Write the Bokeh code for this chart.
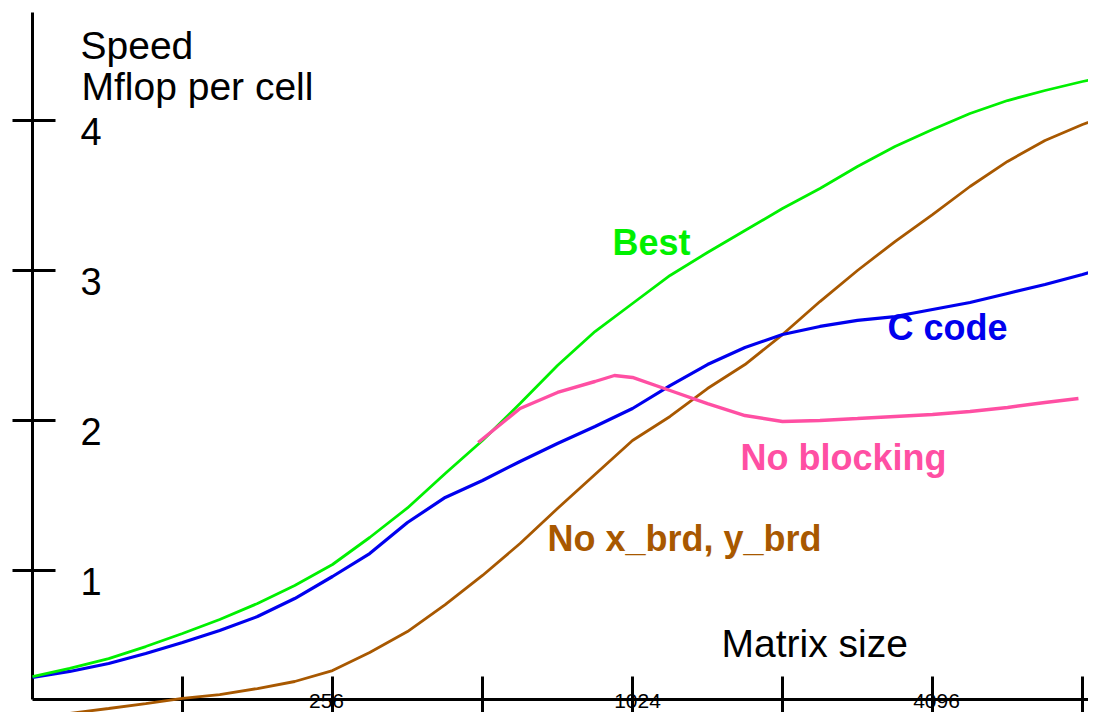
from bokeh.plotting import figure
from bokeh.models import Range1d
from bokeh.core.properties import value
from bokeh.embed import file_html
from bokeh.resources import INLINE

# ---- data ----
sizes = [64, 76, 91, 108, 128, 152, 181, 215, 256, 304, 362, 431, 512, 609, 724,
         861, 1024, 1218, 1448, 1722, 2048, 2435, 2896, 3444, 4096, 4871, 5793,
         6889, 8192, 8738]
best = [0.293, 0.347, 0.413, 0.493, 0.580, 0.673, 0.780, 0.900, 1.040, 1.220,
        1.417, 1.647, 1.867, 2.113, 2.367, 2.593, 2.780, 2.967, 3.120, 3.267,
        3.413, 3.547, 3.693, 3.827, 3.940, 4.047, 4.133, 4.200, 4.260, 4.280]
c_code = [0.287, 0.327, 0.380, 0.447, 0.520, 0.600, 0.693, 0.813, 0.960, 1.113,
          1.320, 1.487, 1.600, 1.727, 1.847, 1.960, 2.080, 2.233, 2.373, 2.487,
          2.573, 2.627, 2.667, 2.693, 2.740, 2.787, 2.847, 2.907, 2.973, 3.000]
no_brd = [0.013, 0.047, 0.080, 0.113, 0.147, 0.173, 0.213, 0.260, 0.333, 0.453,
          0.593, 0.773, 0.967, 1.180, 1.413, 1.640, 1.867, 2.027, 2.213, 2.373,
          2.573, 2.793, 3.000, 3.193, 3.373, 3.560, 3.727, 3.867, 3.973, 4.007]
blocking_sizes = [502, 609, 724, 861, 942, 1024, 1218, 1448, 1722, 2048, 2435,
                  2896, 3444, 4096, 4871, 5793, 6889, 8040]
no_blocking = [1.853, 2.080, 2.187, 2.260, 2.300, 2.287, 2.200, 2.113, 2.033,
               1.993, 2.000, 2.013, 2.027, 2.040, 2.060, 2.087, 2.120, 2.147]

x_ticks = [128, 256, 512, 1024, 2048, 4096, 8192]
x_labeled = [256, 1024, 4096]
x_labels = ["256", "1024", "4096"]
y_ticks = [1, 2, 3, 4]
y_labels = ["1", "2", "3", "4"]

# ---- geometry helpers: picture pixel -> data ----
def xd(px):
    return 64 * 2 ** ((px - 32) / 150.0)

def yd(py):
    return (720 - py) / 150.0

W, H = 1088, 712
p = figure(width=W, height=H, x_axis_type="log",
           x_range=Range1d(xd(0), xd(W)), y_range=Range1d(yd(H), yd(0)),
           output_backend="svg", toolbar_location=None, min_border=0)
p.axis.visible = False
p.grid.visible = False
p.outline_line_color = None
p.background_fill_color = "white"
p.border_fill_color = "white"

FONT = value("Liberation Sans")
AX = "black"
x_axis_y = yd(699)
SHIFT = 12  # baseline correction (px)

# axes
p.segment(x0=[64], y0=[x_axis_y], x1=[xd(1100)], y1=[x_axis_y], line_color=AX, line_width=3)
p.segment(x0=[64], y0=[x_axis_y], x1=[64], y1=[yd(12)], line_color=AX, line_width=3)
p.segment(x0=x_ticks, y0=[yd(676)] * len(x_ticks), x1=x_ticks, y1=[yd(724)] * len(x_ticks),
          line_color=AX, line_width=3)
p.segment(x0=[xd(12)] * len(y_ticks), y0=y_ticks, x1=[xd(55)] * len(y_ticks), y1=y_ticks,
          line_color=AX, line_width=3)

# tick labels
p.text(x=x_labeled, y=[yd(707)] * len(x_labeled), text=x_labels, text_font=FONT,
       text_font_size="21px", text_align="center", text_baseline="bottom",
       text_color="black", x_offset=[-6, 5, 4])
p.text(x=[xd(80)] * len(y_ticks), y=y_ticks, text=y_labels, text_font=FONT,
       text_font_size="38px", text_align="left", text_baseline="alphabetic",
       text_color="black", y_offset=23 - SHIFT)

# curves
GREEN, BLUE, PINK, BROWN = "#00f000", "#0000ee", "#ff4fa3", "#a85800"
p.line(sizes, no_brd, line_color=BROWN, line_width=2.8)
p.line(sizes, c_code, line_color=BLUE, line_width=3.2)
p.line(sizes, best, line_color=GREEN, line_width=2.8)
p.line(blocking_sizes, no_blocking, line_color=PINK, line_width=3.4)

# titles
p.text(x=[xd(80)], y=[yd(57 - SHIFT)], text=["Speed"], text_font=FONT, text_font_size="39px",
       text_baseline="alphabetic", text_color="black")
p.text(x=[xd(81)], y=[yd(98 - SHIFT)], text=["Mflop per cell"], text_font=FONT,
       text_font_size="39px", text_baseline="alphabetic", text_color="black")
p.text(x=[xd(721)], y=[yd(655 - SHIFT)], text=["Matrix size"], text_font=FONT,
       text_font_size="39px", text_baseline="alphabetic", text_color="black")

# series labels
labels = [("Best", 612, 254, GREEN), ("C code", 887, 339, BLUE),
          ("No blocking", 740, 469, PINK), ("No x_brd, y_brd", 547, 550, BROWN)]
for txt, lx, ly, col in labels:
    p.text(x=[xd(lx)], y=[yd(ly - SHIFT)], text=[txt], text_font=FONT, text_font_size="36px",
           text_font_style="bold", text_baseline="alphabetic", text_color=col)

open("out.html", "w").write(file_html(p, INLINE))
